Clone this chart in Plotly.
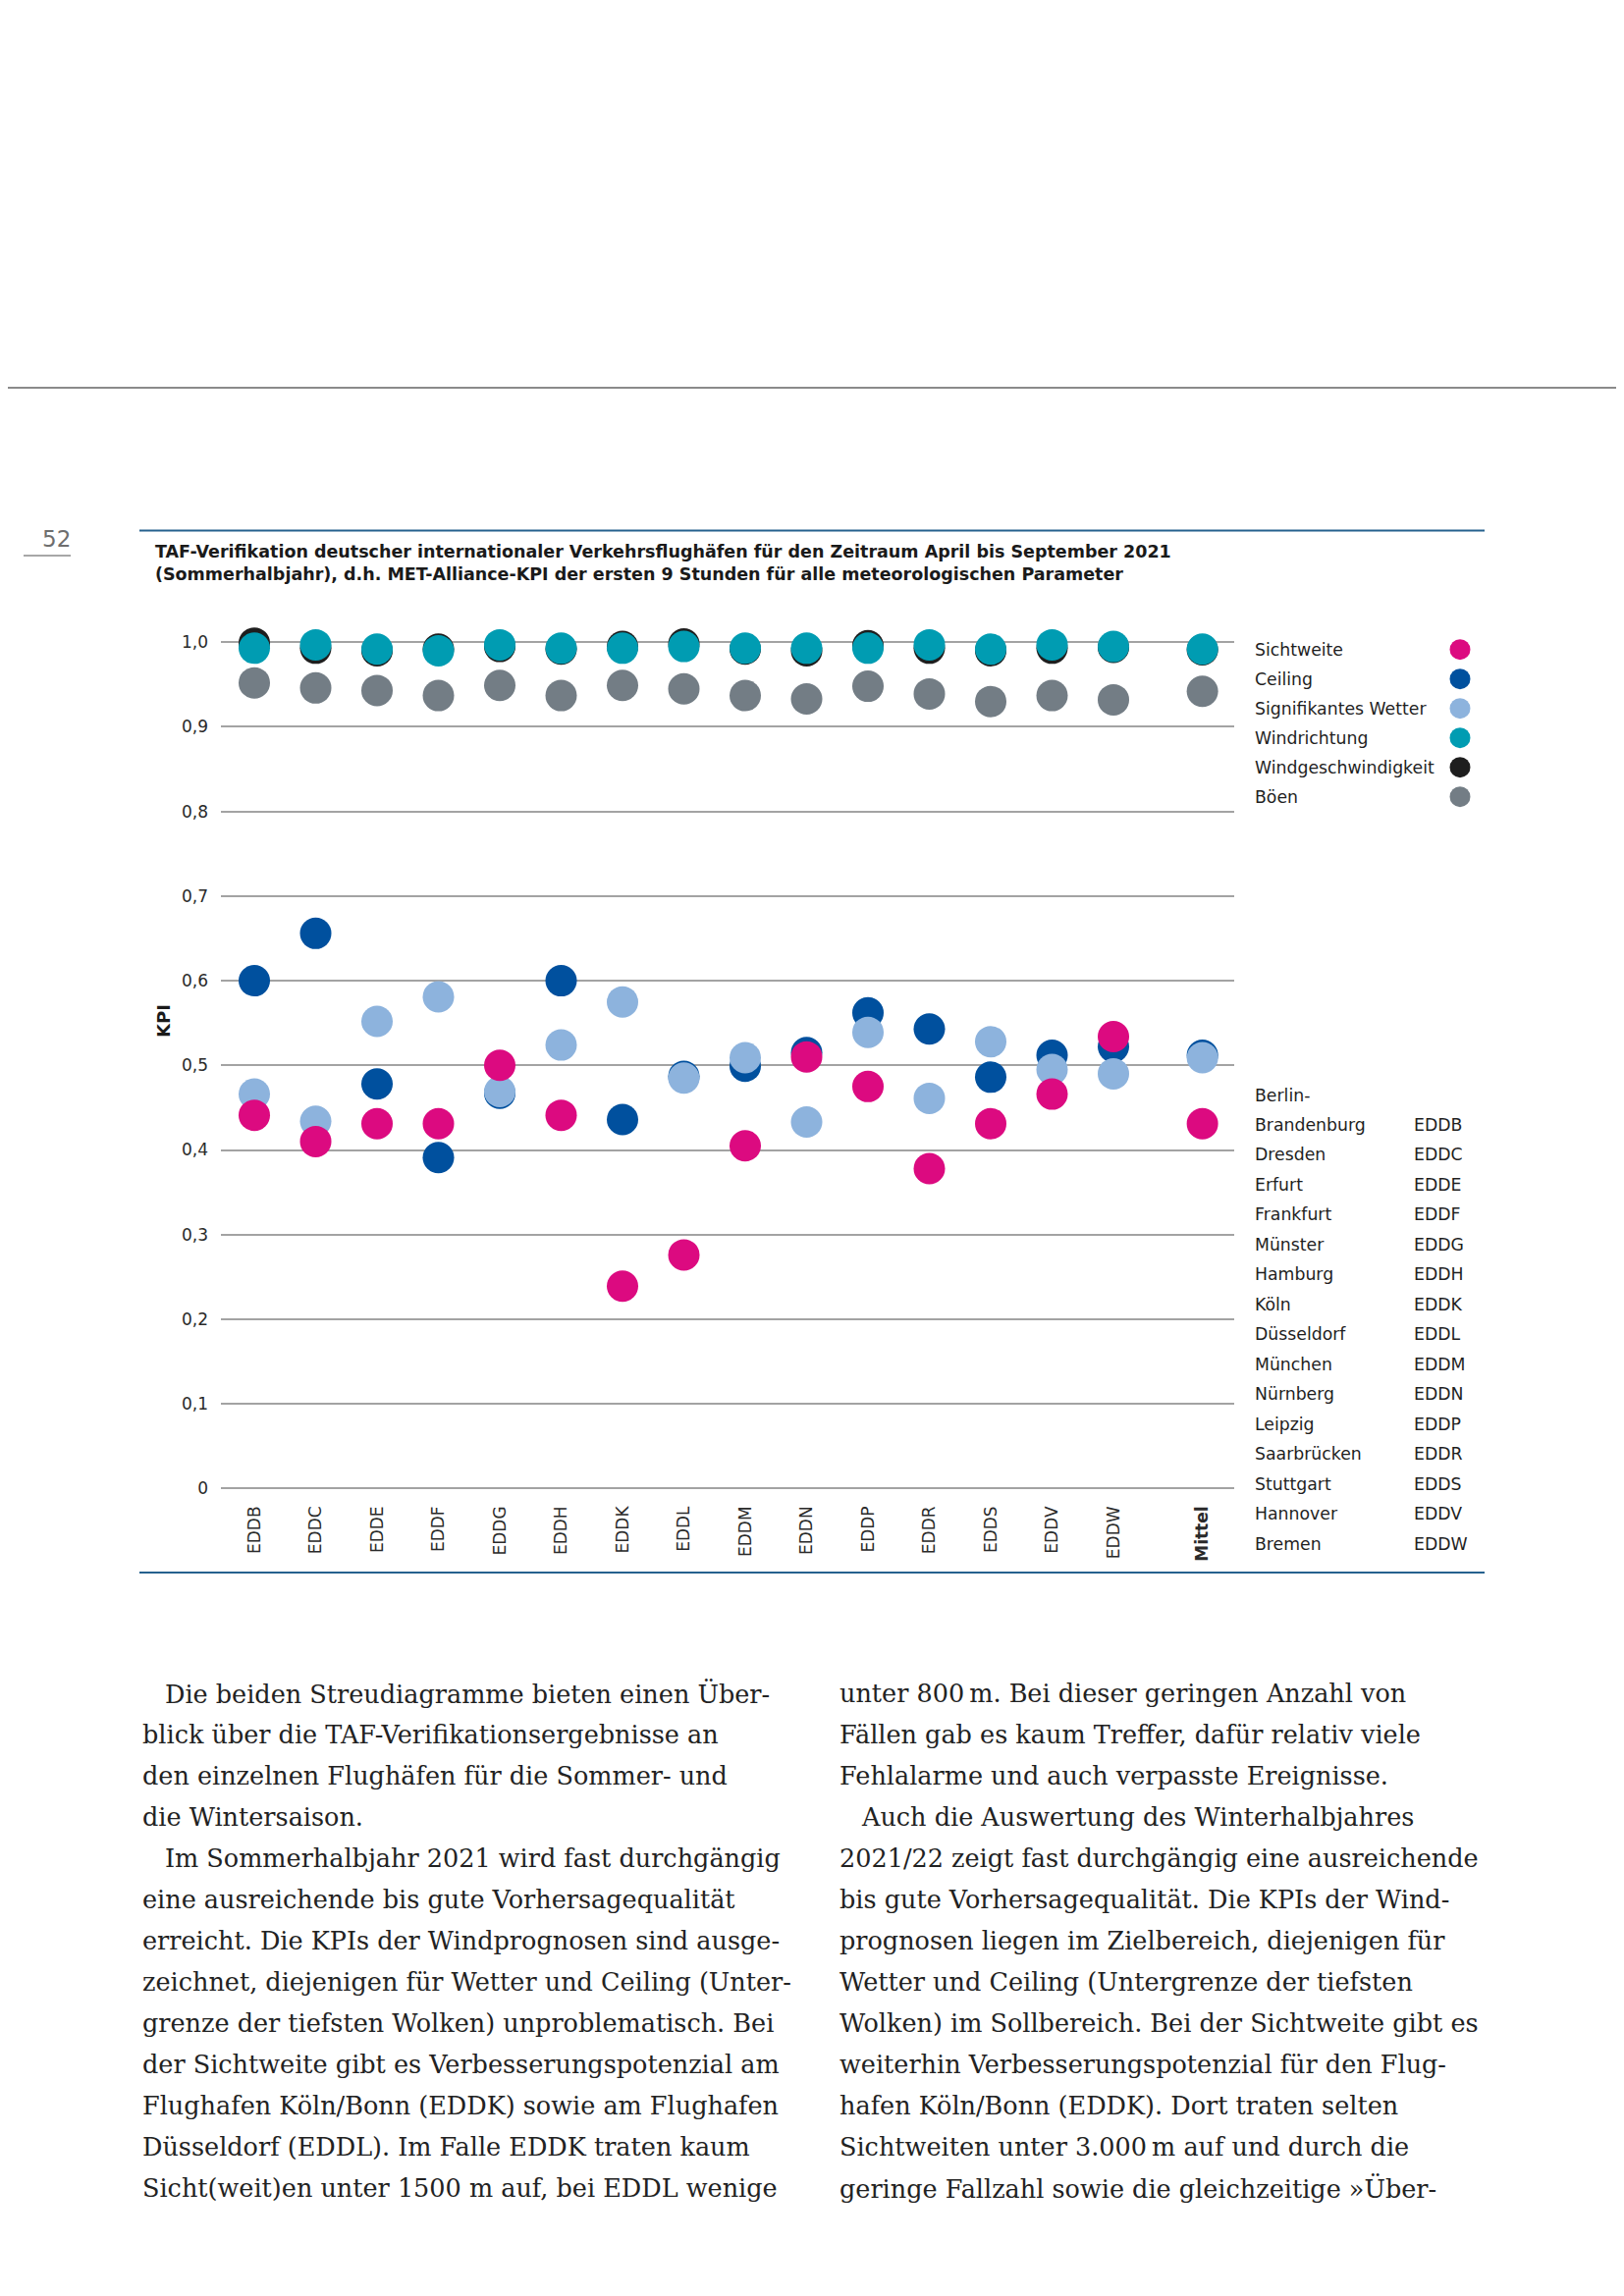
import plotly.graph_objects as go

# ---------------- data ----------------
airports = ["EDDB", "EDDC", "EDDE", "EDDF", "EDDG", "EDDH", "EDDK", "EDDL",
            "EDDM", "EDDN", "EDDP", "EDDR", "EDDS", "EDDV", "EDDW", "Mittel"]

sichtweite = [0.441, 0.410, 0.431, 0.431, 0.500, 0.441, 0.239, 0.276,
              0.405, 0.510, 0.475, 0.378, 0.431, 0.466, 0.534, 0.431]
ceiling = [0.600, 0.656, 0.478, 0.391, 0.467, 0.600, 0.436, 0.487,
           0.499, 0.515, 0.562, 0.543, 0.486, 0.512, 0.522, 0.512]
sig_wetter = [0.466, 0.434, 0.552, 0.581, 0.469, 0.524, 0.575, 0.485,
              0.509, 0.433, 0.539, 0.461, 0.528, 0.495, 0.490, 0.509]
windrichtung = [0.993, 0.997, 0.992, 0.990, 0.997, 0.993, 0.993, 0.995,
                0.993, 0.993, 0.993, 0.997, 0.992, 0.997, 0.995, 0.992]
windgeschw = [0.999, 0.993, 0.990, 0.992, 0.995, 0.992, 0.995, 0.998,
              0.992, 0.990, 0.996, 0.993, 0.990, 0.993, 0.994, 0.991]
boeen = [0.952, 0.946, 0.943, 0.937, 0.949, 0.937, 0.949, 0.945,
         0.937, 0.933, 0.948, 0.939, 0.930, 0.937, 0.932, 0.942]

series_names = ["Sichtweite", "Ceiling", "Signifikantes Wetter",
                "Windrichtung", "Windgeschwindigkeit", "Böen"]
series_values = [sichtweite, ceiling, sig_wetter, windrichtung, windgeschw, boeen]
series_colors = ["#DC0A80", "#00509E", "#8DB3DD", "#009CB2", "#1E1E1E", "#737D85"]

y_ticks = [0, 0.1, 0.2, 0.3, 0.4, 0.5, 0.6, 0.7, 0.8, 0.9, 1.0]
y_ticktext = ["0", "0,1", "0,2", "0,3", "0,4", "0,5", "0,6", "0,7", "0,8", "0,9", "1,0"]

airport_names = ["Brandenburg", "Dresden", "Erfurt", "Frankfurt", "Münster",
                 "Hamburg", "Köln", "Düsseldorf", "München", "Nürnberg",
                 "Leipzig", "Saarbrücken", "Stuttgart", "Hannover", "Bremen"]

title_lines = [
    "TAF-Verifikation deutscher internationaler Verkehrsflughäfen für den Zeitraum April bis September 2021",
    "(Sommerhalbjahr), d.h. MET-Alliance-KPI der ersten 9 Stunden für alle meteorologischen Parameter",
]

left_col = [
    "Die beiden Streudiagramme bieten einen Über-",
    "blick über die TAF-Verifikationsergebnisse an",
    "den einzelnen Flughäfen für die Sommer- und",
    "die Wintersaison.",
    "Im Sommerhalbjahr 2021 wird fast durchgängig",
    "eine ausreichende bis gute Vorhersagequalität",
    "erreicht. Die KPIs der Windprognosen sind ausge-",
    "zeichnet, diejenigen für Wetter und Ceiling (Unter-",
    "grenze der tiefsten Wolken) unproblematisch. Bei",
    "der Sichtweite gibt es Verbesserungspotenzial am",
    "Flughafen Köln/Bonn (EDDK) sowie am Flughafen",
    "Düsseldorf (EDDL). Im Falle EDDK traten kaum",
    "Sicht(weit)en unter 1500 m auf, bei EDDL wenige",
]
left_indent = [True, False, False, False, True] + [False] * 8
right_col = [
    "unter 800\u202fm. Bei dieser geringen Anzahl von",
    "Fällen gab es kaum Treffer, dafür relativ viele",
    "Fehlalarme und auch verpasste Ereignisse.",
    "Auch die Auswertung des Winterhalbjahres",
    "2021/22 zeigt fast durchgängig eine ausreichende",
    "bis gute Vorhersagequalität. Die KPIs der Wind-",
    "prognosen liegen im Zielbereich, diejenigen für",
    "Wetter und Ceiling (Untergrenze der tiefsten",
    "Wolken) im Sollbereich. Bei der Sichtweite gibt es",
    "weiterhin Verbesserungspotenzial für den Flug-",
    "hafen Köln/Bonn (EDDK). Dort traten selten",
    "Sichtweiten unter 3.000\u202fm auf und durch die",
    "geringe Fallzahl sowie die gleichzeitige »Über-",
]
right_indent = [False, False, False, True] + [False] * 9

# ---------------- geometry (page pixels; page body has an 8px offset) ----------------
OFF = 8
W, H = 1654 - OFF, 2339 - OFF
PL, PR, PT, PB = 225, 1257, 653, 1518  # plot area on the page
PW = PR - PL
PH = PB - PT
ML, MT = PL - OFF, PT - OFF
MR = W - ML - PW
MB = H - MT - PH


def px(x):
    return (x - PL) / PW


def py(y):
    return (PB - y) / PH


# x positions: equal spacing, wider gap before "Mittel"
xpos = list(range(len(airports) - 1)) + [len(airports) - 2 + 1.45]

fig = go.Figure()

draw_order = [5, 4, 3, 1, 2, 0]
for i in draw_order:
    fig.add_trace(go.Scatter(
        x=xpos, y=series_values[i], mode="markers", name=series_names[i],
        marker=dict(size=32, color=series_colors[i], line=dict(width=0)),
        showlegend=False, cliponaxis=False,
    ))

ticktext_x = airports[:-1] + ["<b>Mittel</b>"]

fig.update_layout(
    width=W, height=H,
    margin=dict(l=ML, r=MR, t=MT, b=MB, pad=0),
    paper_bgcolor="white", plot_bgcolor="white",
    font=dict(family="DejaVu Sans", color="#2a2a2a"),
    xaxis=dict(
        range=[-0.544, -0.544 + PW / 62.5],
        tickvals=xpos, ticktext=ticktext_x, tickangle=-90,
        tickfont=dict(size=17, color="#2a2a2a", family="DejaVu Sans"),
        showgrid=False, zeroline=False, showline=False,
        ticks="", ticklabelstandoff=12,
    ),
    yaxis=dict(
        range=[-0.00197, 1.0015],
        tickvals=y_ticks, ticktext=y_ticktext,
        tickfont=dict(size=17, color="#2a2a2a", family="DejaVu Sans"),
        showgrid=True, gridcolor="#a3a3a3", gridwidth=1.5,
        zeroline=False, showline=False, ticks="", ticklabelstandoff=12,
    ),
)

annotations = []
shapes = []

# KPI axis title
annotations.append(dict(x=px(166), y=py(1040), xref="paper", yref="paper",
                        text="<b>KPI</b>", textangle=-90, showarrow=False,
                        font=dict(size=18, color="#1a1a1a", family="DejaVu Sans"),
                        xanchor="center", yanchor="middle"))

# chart title
for k, line in enumerate(title_lines):
    annotations.append(dict(x=px(156), y=py(562 + 23 * k), xref="paper", yref="paper",
                            text="<b>" + line + "</b>", showarrow=False,
                            font=dict(size=17.5, color="#1a1a1a", family="DejaVu Sans"),
                            xanchor="left", yanchor="middle"))

# legend (text left, dot right)
for k, name in enumerate(series_names):
    yy = 661.7 + 30 * k
    annotations.append(dict(x=px(1276), y=py(yy), xref="paper", yref="paper",
                            text=name, showarrow=False,
                            font=dict(size=17.3, color="#1f1f1f", family="DejaVu Sans"),
                            xanchor="left", yanchor="middle"))
    shapes.append(dict(type="circle", xref="paper", yref="paper",
                       xsizemode="pixel", ysizemode="pixel",
                       xanchor=px(1487), yanchor=py(yy),
                       x0=-10.5, x1=10.5, y0=-10.5, y1=10.5,
                       fillcolor=series_colors[k], line=dict(width=0)))

# airport list
annotations.append(dict(x=px(1276), y=py(1115.7), xref="paper", yref="paper",
                        text="Berlin-", showarrow=False,
                        font=dict(size=17.3, color="#1f1f1f", family="DejaVu Sans"),
                        xanchor="left", yanchor="middle"))
for k, name in enumerate(airport_names):
    yy = 1145.9 + 30.5 * k
    annotations.append(dict(x=px(1276), y=py(yy), xref="paper", yref="paper",
                            text=name, showarrow=False,
                            font=dict(size=17.3, color="#1f1f1f", family="DejaVu Sans"),
                            xanchor="left", yanchor="middle"))
    annotations.append(dict(x=px(1438), y=py(yy), xref="paper", yref="paper",
                            text=airports[k], showarrow=False,
                            font=dict(size=17.3, color="#1f1f1f", family="DejaVu Sans"),
                            xanchor="left", yanchor="middle"))

# page number
annotations.append(dict(x=px(57), y=py(549), xref="paper", yref="paper",
                        text="52", showarrow=False,
                        font=dict(size=23, color="#6e6e6e", family="DejaVu Sans"),
                        xanchor="center", yanchor="middle"))

# body text
for k, line in enumerate(left_col):
    xx = 166 if left_indent[k] else 142.5
    annotations.append(dict(x=px(xx), y=py(1725 + 42 * k), xref="paper", yref="paper",
                            text=line, showarrow=False,
                            font=dict(size=25.5, color="#222222", family="DejaVu Serif"),
                            xanchor="left", yanchor="middle"))
for k, line in enumerate(right_col):
    xx = 874.5 if right_indent[k] else 852.5
    annotations.append(dict(x=px(xx), y=py(1725 + 42 * k), xref="paper", yref="paper",
                            text=line, showarrow=False,
                            font=dict(size=25.5, color="#222222", family="DejaVu Serif"),
                            xanchor="left", yanchor="middle"))

# page decoration lines
shapes.append(dict(type="line", xref="paper", yref="paper",
                   x0=px(OFF), x1=px(1654), y0=py(395), y1=py(395),
                   line=dict(color="#8a8a8a", width=2)))
shapes.append(dict(type="line", xref="paper", yref="paper",
                   x0=px(24), x1=px(72), y0=py(566), y1=py(566),
                   line=dict(color="#8a8a8a", width=1.5)))
for yy in (540.5, 1602):
    shapes.append(dict(type="line", xref="paper", yref="paper",
                       x0=px(142), x1=px(1512), y0=py(yy), y1=py(yy),
                       line=dict(color="#25618e", width=2)))

fig.update_layout(annotations=annotations, shapes=shapes)

fig.write_html("out.html")
